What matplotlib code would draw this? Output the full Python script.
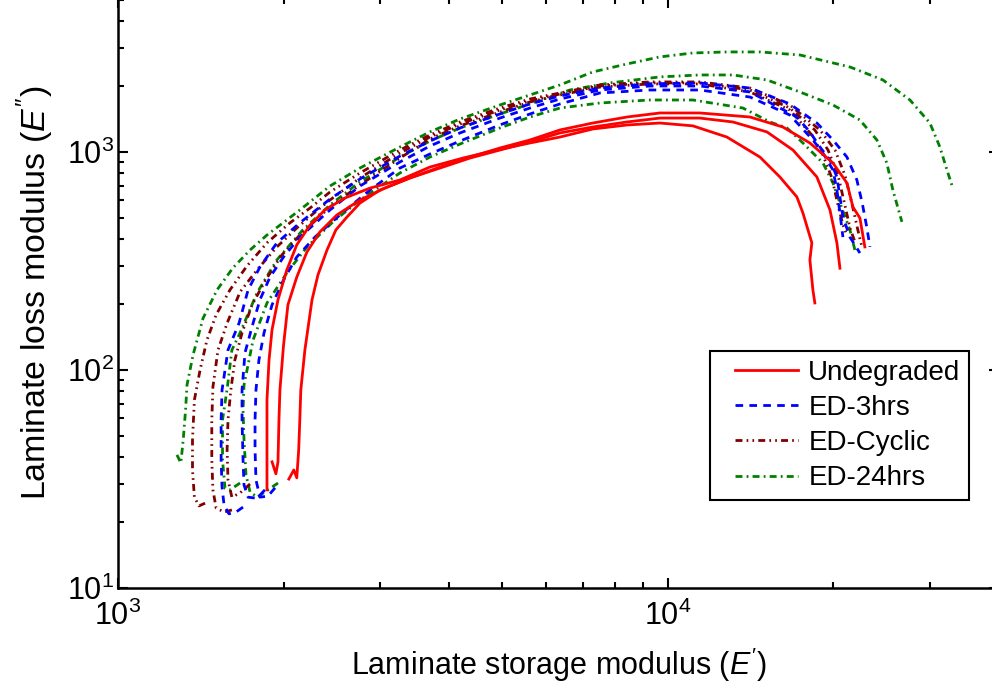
import matplotlib
matplotlib.use('Agg')
import matplotlib.pyplot as plt
from matplotlib.lines import Line2D
from matplotlib.legend_handler import HandlerLine2D

plt.rcParams['font.family'] = ['Liberation Sans', 'DejaVu Sans']
plt.rcParams['mathtext.fontset'] = 'custom'
plt.rcParams['mathtext.rm'] = 'Liberation Sans'
plt.rcParams['mathtext.it'] = 'Liberation Sans:italic'
plt.rcParams['lines.scale_dashes'] = False

# storage modulus E' and loss modulus E'' (3 specimens per condition)
undeg_a_Ep = [1866, 1866, 1866, 1882, 1906, 1954, 2028, 2114, 2234, 2378, 2586, 2872, 3256, 3692, 4240,
              4887, 5612, 6363, 7302, 8424, 9672, 11100, 12800, 14700, 15980, 17160, 17600, 18270, 18120,
              18350, 18500]
undeg_a_Epp = [28.2, 43.0, 72.9, 111, 153, 210, 288, 375, 462, 542, 615, 683, 744, 853, 938,
               1021, 1100, 1171, 1275, 1330, 1358, 1318, 1171, 948, 768, 622, 525, 383, 320,
               233, 203]
undeg_b_Ep = [1906, 1937, 1954, 1962, 1970, 2000, 2037, 2114, 2206, 2329, 2500, 2754, 3057, 3395, 3850,
              4366, 4949, 5612, 6363, 7302, 8424, 9672, 11430, 13130, 15140, 16880, 18660, 19710, 20290,
              20550]
undeg_b_Epp = [37.9, 33.4, 37.9, 59.0, 81.0, 130, 199, 267, 348, 430, 514, 602, 683, 760, 844,
               938, 1021, 1112, 1223, 1302, 1373, 1431, 1431, 1373, 1236, 1021, 768, 542, 383,
               293]
undeg_c_Ep = [2045, 2088, 2114, 2131, 2141, 2150, 2187, 2253, 2310, 2399, 2490, 2608, 2754, 2994, 3395,
              3850, 4366, 4949, 5612, 6363, 7302, 8424, 9672, 11430, 14100, 16180, 18120, 19960, 21160,
              21700, 22340, 22810]
undeg_c_Epp = [31.6, 34.8, 32.0, 43.0, 59.0, 81.0, 123.5, 209.5, 273, 355, 439, 503, 583, 669, 760,
               853, 948, 1043, 1135, 1262, 1358, 1447, 1510, 1510, 1447, 1302, 1100, 890, 721,
               559, 498, 367]

ed3_a_Ep = [1688, 1639, 1591, 1559, 1546, 1540, 1540, 1546, 1585, 1660, 1724, 1812, 1945, 2141, 2429,
            2754, 3256, 3692, 4187, 4949, 5612, 6363, 7522, 9274, 11430, 14100, 16660, 18660, 19960,
            21160, 22060, 22560, 23010, 23300]
ed3_a_Epp = [23.5, 22.3, 21.9, 24.0, 29.1, 38.7, 59.0, 81.0, 123.5, 164, 233, 297, 383, 473, 608,
             752, 958, 1123, 1289, 1494, 1661, 1808, 1965, 2052, 2074, 1965, 1661, 1358, 1135,
             948, 744, 583, 448, 367]
ed3_b_Ep = [1850, 1790, 1724, 1695, 1688, 1681, 1681, 1702, 1753, 1812, 1890, 2000, 2141, 2429, 2754,
            3256, 3692, 4187, 4949, 5612, 6363, 7522, 9274, 11430, 14100, 17160, 18120, 18900, 19710,
            20290, 20550, 20810, 21430, 22340]
ed3_b_Epp = [28.2, 25.8, 26.1, 29.7, 38.7, 59.0, 81.0, 120, 158, 210, 267, 330, 407, 542, 698,
             900, 1065, 1223, 1431, 1591, 1750, 1925, 2008, 2008, 1885, 1447, 1236, 1054, 919,
             768, 622, 503, 407, 344]
ed3_c_Ep = [1930, 1874, 1812, 1782, 1775, 1775, 1782, 1804, 1843, 1906, 2000, 2114, 2281, 2532, 2872,
            3256, 3692, 4187, 4949, 5612, 6363, 7522, 9274, 11430, 14100, 16660, 18350, 19140, 19960,
            20290, 20550, 20810]
ed3_c_Epp = [28.8, 26.4, 26.1, 31.3, 43.0, 59.0, 81.0, 111, 148, 199, 259, 330, 407, 514, 669,
             844, 979, 1123, 1331, 1494, 1661, 1865, 1925, 1925, 1787, 1478, 1135, 989, 827,
             669, 525, 407]

cyc_a_Ep = [1440, 1404, 1377, 1366, 1366, 1377, 1410, 1451, 1508, 1598, 1716, 1866, 2054, 2234, 2429,
            2754, 3256, 3692, 4187, 4949, 5612, 6363, 7522, 9274, 11430, 14100, 16660, 18900, 20130,
            20980, 21640, 22150, 22530]
cyc_a_Epp = [24.5, 23.8, 26.1, 34.8, 47.8, 72.9, 100, 137, 179, 233, 300, 383, 473, 553, 655,
             801, 1021, 1196, 1373, 1591, 1750, 1865, 2030, 2096, 2096, 1965, 1643, 1262, 1021,
             784, 571, 439, 367]
cyc_b_Ep = [1611, 1559, 1508, 1488, 1481, 1481, 1488, 1520, 1579, 1667, 1790, 1945, 2114, 2262, 2429,
            2754, 3256, 3692, 4187, 4949, 5612, 6363, 7522, 9274, 11430, 14100, 16660, 18500, 19550,
            20380, 20980, 21430, 21880]
cyc_b_Epp = [22.8, 22.3, 23.3, 28.2, 38.7, 59.0, 83.6, 123.5, 164, 228, 288, 367, 448, 520, 602,
             760, 989, 1171, 1344, 1558, 1714, 1845, 2008, 2074, 2074, 1925, 1591, 1262, 1021,
             784, 571, 448, 387]
cyc_c_Ep = [1738, 1667, 1611, 1585, 1579, 1585, 1604, 1631, 1681, 1753, 1856, 1986, 2141, 2429, 2754,
            3256, 3692, 4187, 4949, 5612, 6363, 7522, 9274, 11430, 14100, 16660, 18270, 19140, 19870,
            20380, 20810, 21160]
cyc_c_Epp = [30.0, 27.3, 26.1, 31.3, 43.0, 59.0, 81.0, 111, 148, 199, 259, 337, 416, 559, 706,
             938, 1147, 1318, 1524, 1696, 1826, 1985, 2052, 2052, 1885, 1558, 1196, 969, 760,
             571, 463, 416]

ed24_a_Ep = [1280, 1301, 1314, 1327, 1335, 1369, 1428, 1514, 1618, 1738, 1866, 2028, 2141, 2429, 2754,
             3256, 3692, 4187, 4949, 5612, 6363, 7302, 8424, 9672, 11100, 12800, 14700, 17380, 21430,
             24600, 27550, 29950, 31230, 32170, 32970]
ed24_a_Epp = [40.8, 37.5, 47.8, 65.6, 85.4, 117, 173, 233, 294, 355, 416, 488, 542, 698, 844,
              1054, 1236, 1417, 1643, 1826, 2030, 2329, 2534, 2730, 2846, 2877, 2877, 2786, 2454,
              2140, 1732, 1358, 1054, 827, 683]
ed24_b_Ep = [1667, 1598, 1565, 1549, 1549, 1581, 1611, 1667, 1790, 1945, 2168, 2429, 2754, 3256, 3692,
             4187, 4949, 5612, 6634, 7843, 9672, 11430, 13130, 15140, 17380, 19960, 22340, 23990, 25010,
             25650, 26640]
ed24_b_Epp = [30.3, 28.2, 28.7, 38.7, 59.0, 83.6, 123.5, 148, 226, 320, 439, 571, 729, 948, 1123,
              1289, 1494, 1661, 1925, 2074, 2210, 2256, 2256, 2140, 1885, 1643, 1402, 1135, 890,
              669, 478]
ed24_c_Ep = [1954, 1874, 1790, 1738, 1709, 1695, 1688, 1695, 1760, 1866, 2028, 2206, 2460, 2754, 3256,
             3692, 4187, 4949, 5612, 6363, 7522, 9274, 11100, 13690, 15330, 16460, 17600, 19140, 19960,
             20550, 21430, 21880]
ed24_c_Epp = [30.3, 28.2, 26.1, 27.6, 33.0, 47.8, 65.6, 85.4, 137, 203, 279, 367, 478, 602, 801,
              948, 1088, 1289, 1447, 1591, 1678, 1732, 1732, 1591, 1373, 1289, 1100, 890, 721,
              583, 439, 355]

labels = ['Undegraded', 'ED-3hrs', 'ED-Cyclic', 'ED-24hrs']
colors = ['#ff0000', '#0000ff', '#800000', '#008000']
dash_styles = [None, (5.5, 4.5), (5, 3, 1.2, 3, 1.2, 3), (5, 3, 1.3, 3)]
curves = [
    [(undeg_a_Ep, undeg_a_Epp), (undeg_b_Ep, undeg_b_Epp), (undeg_c_Ep, undeg_c_Epp)],
    [(ed3_a_Ep, ed3_a_Epp), (ed3_b_Ep, ed3_b_Epp), (ed3_c_Ep, ed3_c_Epp)],
    [(cyc_a_Ep, cyc_a_Epp), (cyc_b_Ep, cyc_b_Epp), (cyc_c_Ep, cyc_c_Epp)],
    [(ed24_a_Ep, ed24_a_Epp), (ed24_b_Ep, ed24_b_Epp), (ed24_c_Ep, ed24_c_Epp)],
]

fig = plt.figure(figsize=(9.92, 6.89), dpi=100)
ax = fig.add_axes([118 / 992, 101 / 689, 881 / 992, 590 / 689])

handles = [None] * 4
# draw degraded sets first so the red curves sit on top
for k in [3, 2, 1, 0]:
    for x, y in curves[k]:
        line, = ax.plot(x, y, color=colors[k], lw=2)
        if dash_styles[k] is not None:
            line.set_dashes(dash_styles[k])
        handles[k] = line

ax.set_xscale('log')
ax.set_yscale('log')
ax.set_xlim(1000, 40000)
ax.set_ylim(10, 5086)

ax.tick_params(which='both', direction='in', top=True, right=True, width=1.5, labelsize=22)
ax.tick_params(which='major', length=7)
ax.tick_params(which='minor', length=4.5)
ax.tick_params(axis='x', which='major', pad=9)
ax.tick_params(axis='y', which='major', pad=3)
for sp in ax.spines.values():
    sp.set_linewidth(1.8)

ax.set_xlabel("Laminate storage modulus ($E'$)", fontsize=22, labelpad=10)
ax.set_ylabel("Laminate loss modulus ($E''$)", fontsize=24.5, labelpad=8)

leg = ax.legend(handles, labels, loc='upper left', bbox_to_anchor=(0.672, 0.401),
                borderaxespad=0, fontsize=20, fancybox=False, framealpha=1,
                edgecolor='black', handlelength=2.88, handletextpad=0.36,
                labelspacing=0.33, borderpad=0.3,
                handler_map={Line2D: HandlerLine2D(xpad=0.6)})
leg.get_frame().set_linewidth(1.5)

fig.savefig('out.png', dpi=100)
